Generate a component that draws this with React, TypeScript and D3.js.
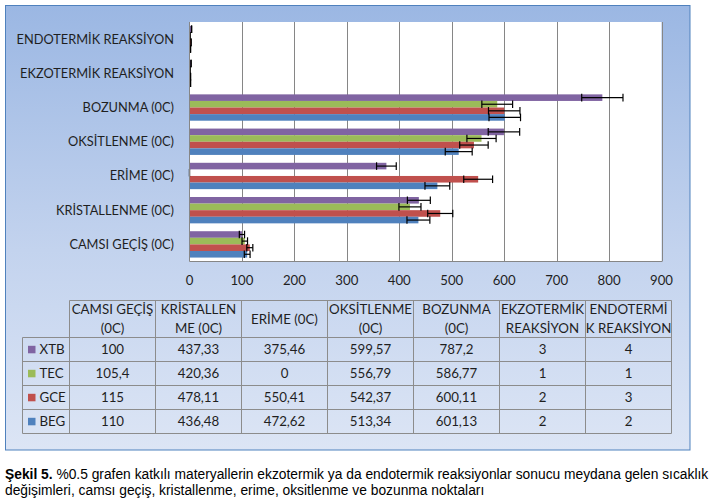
import * as d3 from 'd3';
import * as React from 'react';

// chart data
const categories: string[] = [
    'CAMSI GEÇİŞ (0C)',
    'KRİSTALLENME (0C)',
    'ERİME (0C)',
    'OKSİTLENME (0C)',
    'BOZUNMA (0C)',
    'EKZOTERMİK REAKSİYON',
    'ENDOTERMİK REAKSİYON',
];
const seriesNames: string[] = ['XTB', 'TEC', 'GCE', 'BEG'];
const seriesColors: string[] = ['#8064A2', '#9BBB59', '#C0504D', '#4F81BD'];
const xtbValues: number[] = [100, 437.33, 375.46, 599.57, 787.2, 3, 4];
const tecValues: number[] = [105.4, 420.36, 0, 556.79, 586.77, 1, 1];
const gceValues: number[] = [115, 478.11, 550.41, 542.37, 600.11, 2, 3];
const begValues: number[] = [110, 436.48, 472.62, 513.34, 601.13, 2, 2];
const xTicks: number[] = [0, 100, 200, 300, 400, 500, 600, 700, 800, 900];
// excel style percentage error bars
const errorPercent = 0.05;
const tableHeaders: string[][] = [
    ['CAMSI GEÇİŞ', '(0C)'],
    ['KRİSTALLEN', 'ME (0C)'],
    ['ERİME (0C)'],
    ['OKSİTLENME', '(0C)'],
    ['BOZUNMA', '(0C)'],
    ['EKZOTERMİK', 'REAKSİYON'],
    ['ENDOTERMİ', 'K REAKSİYON'],
];
const captionBold = 'Şekil 5.';
const captionLine1 = ' %0.5 grafen katkılı materyallerin ekzotermik ya da endotermik reaksiyonlar sonucu meydana gelen sıcaklık';
const captionLine2 = 'değişimleri, camsı geçiş, kristallenme, erime, oksitlenme ve bozunma noktaları';

const seriesValues: number[][] = [xtbValues, tecValues, gceValues, begValues];

const W = 721;
const H = 504;
const chartFont = 'Lato, "Open Sans", sans-serif';
const textColor = '#1f1f1f';

/**
 * Chart component
 */
export default class App extends React.Component {

    private svgRef: SVGSVGElement | null = null;

    public render() {
        return (
            <div style={{ position: 'absolute', left: 0, top: 0, width: W, height: H, background: '#fff' }}>
                <svg ref={ref => { this.svgRef = ref; }} width={W} height={H} />
            </div>
        );
    }

    public componentDidMount() {
        this.draw();
    }

    private draw() {
        if (!this.svgRef) return;
        const svg = d3.select(this.svgRef);
        svg.selectAll('*').remove();

        // background frame with the blue gradient
        const defs = svg.append('defs');
        const grad = defs.append('linearGradient')
            .attr('id', 'frameGrad')
            .attr('x1', 0).attr('y1', 0).attr('x2', 0).attr('y2', 1);
        grad.append('stop').attr('offset', '0%').attr('stop-color', '#9BB7E3');
        grad.append('stop').attr('offset', '55%').attr('stop-color', '#C3D3EE');
        grad.append('stop').attr('offset', '100%').attr('stop-color', '#DCE5F5');

        svg.append('rect')
            .attr('x', 5.5).attr('y', 5.5)
            .attr('width', 684.5).attr('height', 444.5)
            .attr('fill', 'url(#frameGrad)')
            .attr('stroke', '#4F81BD')
            .attr('stroke-width', 1);

        // plot area
        const plot = { left: 189.5, right: 661.5, top: 22, bottom: 261.5 };

        const x = d3.scaleLinear()
            .domain([0, 900])
            .range([plot.left, plot.right]);

        const y = d3.scaleBand<string>()
            .domain(categories.slice().reverse())
            .range([plot.top, plot.bottom])
            .paddingInner(0.23)
            .paddingOuter(0.115);

        const ySub = d3.scaleBand<string>()
            .domain(seriesNames)
            .range([0, y.bandwidth()]);

        svg.append('rect')
            .attr('x', plot.left).attr('y', plot.top)
            .attr('width', plot.right - plot.left).attr('height', plot.bottom - plot.top)
            .attr('fill', '#fff');

        // vertical gridlines
        svg.append('g')
            .selectAll('line')
            .data(xTicks.slice(1))
            .join('line')
            .attr('x1', d => Math.round(x(d)) + 0.5)
            .attr('x2', d => Math.round(x(d)) + 0.5)
            .attr('y1', plot.top)
            .attr('y2', plot.bottom)
            .attr('stroke', '#868686')
            .attr('stroke-width', 1);

        svg.append('line')
            .attr('x1', plot.left).attr('x2', plot.right + 0.5)
            .attr('y1', plot.bottom).attr('y2', plot.bottom)
            .attr('stroke', '#868686');

        // bars
        const bars = svg.append('g');
        seriesNames.forEach((name, si) => {
            const vals = seriesValues[si];
            bars.append('g')
                .selectAll('rect')
                .data(categories.map((c, ci) => ({ c, v: vals[ci] })))
                .join('rect')
                .attr('x', x(0))
                .attr('y', d => (y(d.c) as number) + (ySub(name) as number))
                .attr('width', d => x(d.v) - x(0))
                .attr('height', ySub.bandwidth())
                .attr('fill', seriesColors[si]);
        });

        // error bars
        const errs = svg.append('g').attr('stroke', '#000').attr('stroke-width', 1.2);
        seriesNames.forEach((name, si) => {
            const vals = seriesValues[si];
            categories.forEach((c, ci) => {
                const v = vals[ci];
                const e = v * errorPercent;
                const cy = (y(c) as number) + (ySub(name) as number) + ySub.bandwidth() / 2;
                const cap = ySub.bandwidth() / 2 + 0.5;
                const g = errs.append('g');
                g.append('line')
                    .attr('x1', x(v - e)).attr('x2', x(v + e))
                    .attr('y1', cy).attr('y2', cy);
                g.append('line')
                    .attr('x1', x(v - e)).attr('x2', x(v - e))
                    .attr('y1', cy - cap).attr('y2', cy + cap);
                g.append('line')
                    .attr('x1', x(v + e)).attr('x2', x(v + e))
                    .attr('y1', cy - cap).attr('y2', cy + cap);
            });
        });

        // category axis line
        svg.append('line')
            .attr('x1', plot.left).attr('x2', plot.left)
            .attr('y1', plot.top).attr('y2', plot.bottom)
            .attr('stroke', '#868686');

        // category labels
        svg.append('g')
            .selectAll('text')
            .data(categories)
            .join('text')
            .attr('x', 174)
            .attr('y', d => (y(d) as number) + y.bandwidth() / 2)
            .attr('dy', '0.35em')
            .attr('text-anchor', 'end')
            .attr('font-family', chartFont)
            .attr('font-size', 12.8)
            .attr('fill', textColor)
            .text(d => d);

        // value axis labels
        svg.append('g')
            .selectAll('text')
            .data(xTicks)
            .join('text')
            .attr('x', d => x(d))
            .attr('y', 285)
            .attr('text-anchor', 'middle')
            .attr('font-family', chartFont)
            .attr('font-size', 13.2)
            .attr('fill', textColor)
            .text(d => d);

        this.drawTable(svg);
        this.drawCaption(svg);
    }

    /**
     * Data table under the chart.
     */
    private drawTable(svg: d3.Selection<SVGSVGElement, unknown, null, undefined>) {
        const tbl = { left: 22.5, keyRight: 69.5, right: 671.5, top: 300.5, headBottom: 337.5, bottom: 433.5 };
        const col = d3.scaleBand<string>()
            .domain(categories)
            .range([tbl.keyRight, tbl.right]);
        const row = d3.scaleBand<string>()
            .domain(seriesNames)
            .range([tbl.headBottom, tbl.bottom]);

        const g = svg.append('g')
            .attr('font-family', chartFont)
            .attr('font-size', 13.3)
            .attr('fill', textColor);
        const stroke = '#8C8C8C';

        // horizontal lines
        const hLines = [tbl.top, ...seriesNames.map(s => row(s) as number), tbl.bottom];
        g.append('g')
            .selectAll('line')
            .data(hLines)
            .join('line')
            .attr('x1', (d, i) => i === 0 ? tbl.keyRight : tbl.left)
            .attr('x2', tbl.right)
            .attr('y1', d => Math.round(d - 0.5) + 0.5)
            .attr('y2', d => Math.round(d - 0.5) + 0.5)
            .attr('stroke', stroke);

        // vertical lines
        const vLines = [tbl.left, ...categories.map(c => col(c) as number), tbl.right];
        g.append('g')
            .selectAll('line')
            .data(vLines)
            .join('line')
            .attr('x1', d => Math.round(d - 0.5) + 0.5)
            .attr('x2', d => Math.round(d - 0.5) + 0.5)
            .attr('y1', (d, i) => i === 0 ? tbl.headBottom : tbl.top)
            .attr('y2', tbl.bottom)
            .attr('stroke', stroke);

        // headers
        categories.forEach((c, ci) => {
            const lines = tableHeaders[ci];
            const cx = (col(c) as number) + col.bandwidth() / 2;
            const mid = (tbl.top + tbl.headBottom) / 2;
            lines.forEach((t, li) => {
                g.append('text')
                    .attr('x', cx)
                    .attr('y', mid + (li - (lines.length - 1) / 2) * 19)
                    .attr('dy', '0.35em')
                    .attr('text-anchor', 'middle')
                    .text(t);
            });
        });

        // rows
        seriesNames.forEach((s, si) => {
            const cy = (row(s) as number) + row.bandwidth() / 2;
            g.append('rect')
                .attr('x', 28).attr('y', cy - 3.7)
                .attr('width', 7.5).attr('height', 7.5)
                .attr('fill', seriesColors[si]);
            g.append('text')
                .attr('x', 39.5).attr('y', cy)
                .attr('dy', '0.35em')
                .text(s);
            categories.forEach((c, ci) => {
                g.append('text')
                    .attr('x', (col(c) as number) + col.bandwidth() / 2)
                    .attr('y', cy)
                    .attr('dy', '0.35em')
                    .attr('text-anchor', 'middle')
                    .text(String(seriesValues[si][ci]).replace('.', ','));
            });
        });
    }

    /**
     * Figure caption.
     */
    private drawCaption(svg: d3.Selection<SVGSVGElement, unknown, null, undefined>) {
        const g = svg.append('g')
            .attr('font-family', '"Liberation Sans", Arial, sans-serif')
            .attr('font-size', 13.8)
            .attr('fill', '#000');
        const t1 = g.append('text').attr('x', 5).attr('y', 479);
        t1.append('tspan').attr('font-weight', 'bold').text(captionBold);
        t1.append('tspan').text(captionLine1);
        g.append('text').attr('x', 5).attr('y', 495).text(captionLine2);
    }
}
